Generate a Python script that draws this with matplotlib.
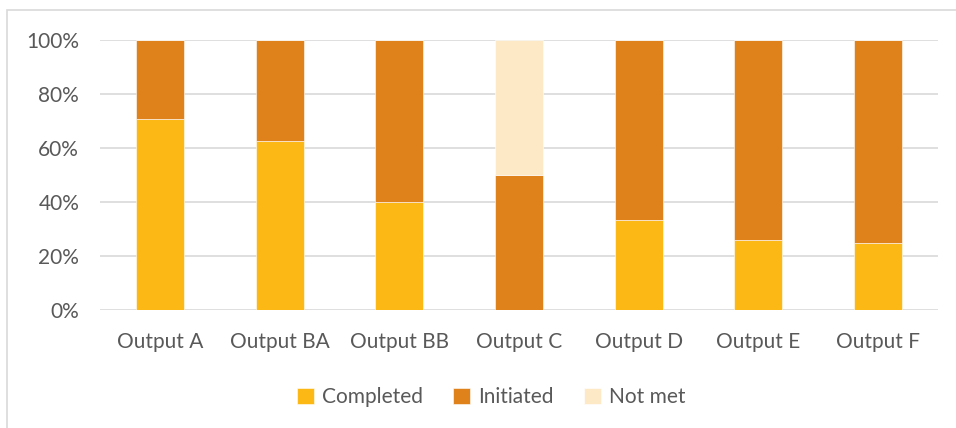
import matplotlib
matplotlib.use("Agg")
from matplotlib import pyplot as plt
from matplotlib.patches import Rectangle
import numpy as np

# share of each output by status (percent)
outputs = ["Output A", "Output BA", "Output BB", "Output C", "Output D", "Output E", "Output F"]
completed = [70.8, 62.5, 40.0, 0.0, 33.3, 26.0, 25.0]
initiated = [29.2, 37.5, 60.0, 50.0, 66.7, 74.0, 75.0]
not_met = [0.0, 0.0, 0.0, 50.0, 0.0, 0.0, 0.0]

colors = {"Completed": "#FCB814", "Initiated": "#E0821C", "Not met": "#FEE9C6"}
text_col = "#595959"

plt.rcParams['font.family'] = ['Lato', 'DejaVu Sans']

fig = plt.figure(figsize=(9.56, 4.28), dpi=100)
ax = fig.add_axes([100/956, 1 - 310/428, 838/956, 270/428])

x = np.arange(len(outputs))
bottom = np.zeros(len(outputs))
for name, vals in [("Completed", completed), ("Initiated", initiated), ("Not met", not_met)]:
    vals = np.array(vals)
    ax.bar(x, vals, width=0.4, bottom=bottom, color=colors[name], label=name,
           edgecolor="white", linewidth=0.4, zorder=3)
    bottom += vals

ax.set_xlim(-0.5, len(outputs) - 0.5)
ax.set_ylim(0, 100)
ax.set_yticks(np.arange(0, 101, 20))
ax.set_yticklabels([f"{v}%" for v in range(0, 101, 20)])
ax.set_xticks(x)
ax.set_xticklabels(outputs)
ax.grid(axis="y", color="#D9D9D9", linewidth=1.2, zorder=0)
ax.tick_params(length=0, labelsize=15, colors=text_col)
ax.tick_params(axis="y", pad=15)
ax.tick_params(axis="x", pad=16)
for s in ax.spines.values():
    s.set_visible(False)

leg = ax.legend(loc="upper center", bbox_to_anchor=(0.467, -0.215), ncol=3, frameon=False,
                fontsize=15, handlelength=0.8, handleheight=0.8, columnspacing=1.45,
                handletextpad=0.4)
for t in leg.get_texts():
    t.set_color(text_col)

# chart frame
fig.patches.append(Rectangle((7/956, -0.05), 1.0, 1 - 10/428 + 0.05, transform=fig.transFigure,
                             fill=False, edgecolor="#D9D9D9", linewidth=1.2))

fig.savefig("out.png", dpi=100)
